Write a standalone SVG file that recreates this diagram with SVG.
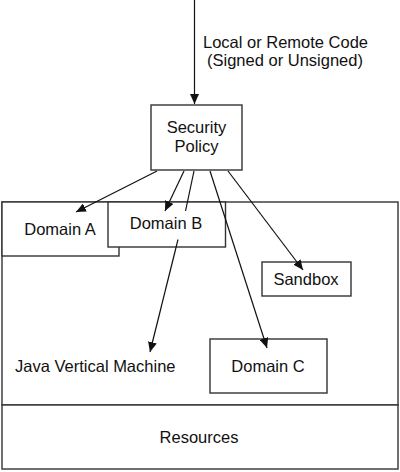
<svg xmlns="http://www.w3.org/2000/svg" width="400" height="472" viewBox="0 0 400 472">
<defs>
<style>
.box{fill:#fff;stroke:#333;stroke-width:1.4}
.t{font-family:"Liberation Sans",Arial,sans-serif;font-size:16.5px;fill:#111;text-anchor:middle}
.c{fill:none;stroke:#111;stroke-width:1.2}
</style>
<marker id="ah" markerUnits="userSpaceOnUse" markerWidth="11" markerHeight="9" refX="10" refY="4.5" orient="auto">
<path d="M0,0 L10,4.5 L0,9 z" fill="#111"/>
</marker>
</defs>
<rect width="400" height="472" fill="#fff"/>
<g id="jvm">
<rect class="box" x="2" y="202" width="396" height="203"/>
<text class="t" x="15" y="372" style="text-anchor:start">Java Vertical Machine</text>
</g>
<g id="resources">
<rect class="box" x="2" y="405" width="396" height="64"/>
<text class="t" x="199" y="443">Resources</text>
</g>
<g id="domain-a">
<rect class="box" x="2" y="202" width="117" height="54"/>
<text class="t" x="60" y="235">Domain A</text>
</g>
<g id="domain-b">
<rect class="box" x="108" y="202" width="117.5" height="45"/>
<text class="t" x="166" y="229">Domain B</text>
</g>
<g id="sandbox">
<rect class="box" x="262" y="262" width="89" height="34"/>
<text class="t" x="306" y="285">Sandbox</text>
</g>
<g id="domain-c">
<rect class="box" x="210" y="339" width="117" height="54"/>
<text class="t" x="268" y="372">Domain C</text>
</g>
<g id="security-policy">
<rect class="box" x="151" y="105" width="91" height="65"/>
<text class="t" x="196.5" y="133">Security</text>
<text class="t" x="196.5" y="152">Policy</text>
</g>
<g id="code-label">
<text class="t" x="285.5" y="48">Local or Remote Code</text>
<text class="t" x="285" y="66">(Signed or Unsigned)</text>
</g>
<g id="connectors">
<path class="c" d="M194.5,0 L194.5,104" marker-end="url(#ah)"/>
<path class="c" d="M157,171 L76,212" marker-end="url(#ah)"/>
<path class="c" d="M184,171 L165,211" marker-end="url(#ah)"/>
<path class="c" d="M194,171 L185.5,211"/>
<path class="c" d="M178,239.5 L150,352" marker-end="url(#ah)"/>
<path class="c" d="M210,171 L267,348" marker-end="url(#ah)"/>
<path class="c" d="M228,171 L303,270" marker-end="url(#ah)"/>
</g>
</svg>
